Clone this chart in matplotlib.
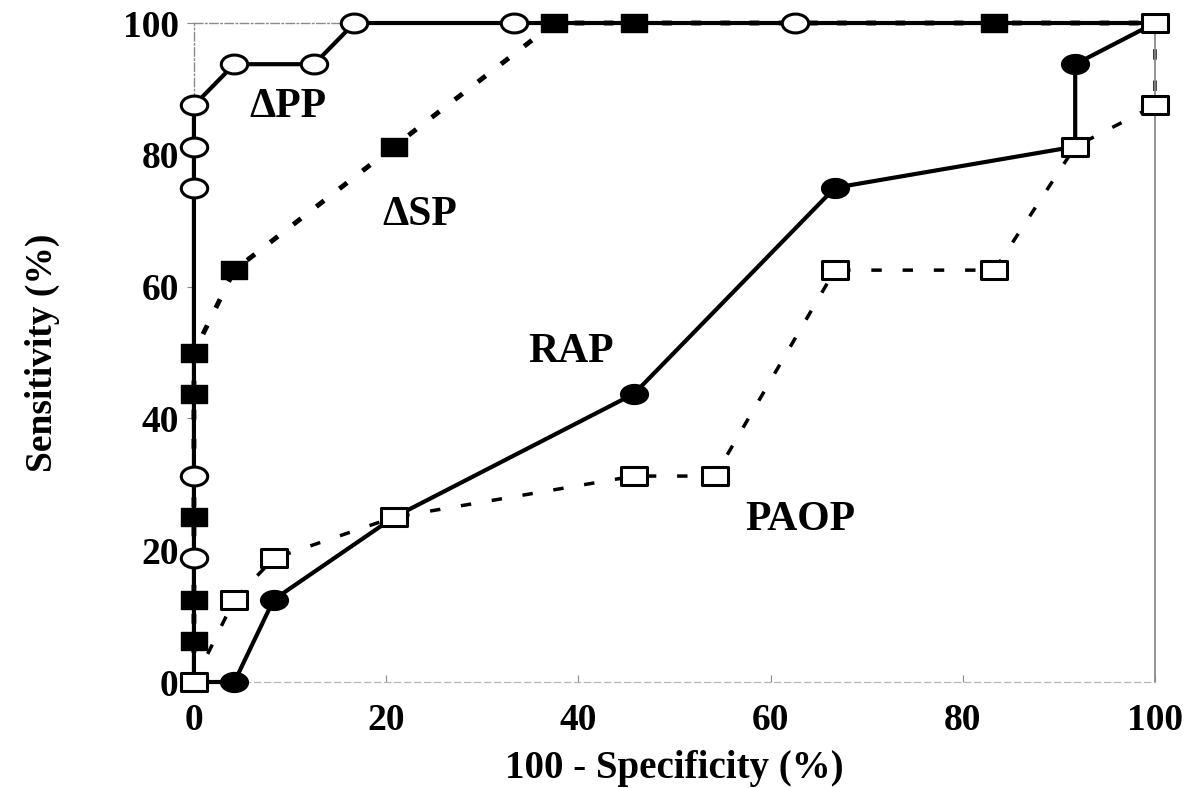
import matplotlib.pyplot as plt
import numpy as np
from matplotlib.path import Path
from matplotlib.transforms import Affine2D

# ROC points: x = 100 - specificity (%), y = sensitivity (%)
pp_x = [0, 0, 0, 0, 0, 0, 4.2, 12.5, 16.7, 33.3, 62.5, 100]
pp_y = [0, 18.75, 31.25, 75, 81.25, 87.5, 93.75, 93.75, 100, 100, 100, 100]

sp_x = [0, 0, 0, 0, 0, 0, 4.2, 20.8, 37.5, 45.8, 83.3, 100]
sp_y = [0, 6.25, 12.5, 25, 43.75, 50, 62.5, 81.25, 100, 100, 100, 100]

rap_x = [0, 4.2, 8.3, 20.8, 45.8, 66.7, 91.7, 91.7, 100]
rap_y = [0, 0, 12.5, 25, 43.75, 75, 81.25, 93.75, 100]

paop_x = [0, 4.2, 8.3, 20.8, 45.8, 54.2, 66.7, 83.3, 91.7, 100, 100]
paop_y = [0, 12.5, 18.75, 25, 31.25, 31.25, 62.5, 62.5, 81.25, 87.5, 100]

labels = ["\u0394PP", "\u0394SP", "RAP", "PAOP"]
label_x = [9.8, 23.5, 39.2, 63.1]
label_y = [87.3, 70.9, 50.1, 24.6]

# slightly wide markers
oval = Path.unit_circle().transformed(Affine2D().scale(1.4, 1.0))
box = Path([[-1.45, -1], [1.45, -1], [1.45, 1], [-1.45, 1], [-1.45, -1]],
           [Path.MOVETO, Path.LINETO, Path.LINETO, Path.LINETO, Path.CLOSEPOLY])

font = ['Liberation Serif', 'DejaVu Serif']
plt.rcParams['font.family'] = font
plt.rcParams['font.weight'] = 'bold'

fig = plt.figure(figsize=(11.95, 7.88), dpi=100)
ax = fig.add_axes([0.1623, 0.1345, 0.8042, 0.8363])

# PAOP (dashed, open squares)
ax.plot(paop_x, paop_y, color='black', lw=2.5, ls=(0, (3, 6)), zorder=2,
        clip_on=False)
# RAP (solid, filled circles)
ax.plot(rap_x, rap_y, color='black', lw=3, zorder=3, clip_on=False)
ax.plot(rap_x, rap_y, ls='none', marker=oval, ms=20, mfc='black', mec='black',
        markevery=[1, 2, 4, 5, 7], zorder=5, clip_on=False)
# dSP (dotted, filled squares)
ax.plot(sp_x, sp_y, color='black', lw=3.5, ls=(0, (2, 4)), zorder=2,
        clip_on=False)
# dPP (solid, open circles)
ax.plot(pp_x, pp_y, color='black', lw=3, zorder=3, clip_on=False)
ax.plot(sp_x, sp_y, ls='none', marker=box, ms=19, mfc='black', mec='black',
        markevery=list(range(1, 11)), zorder=5, clip_on=False)
ax.plot(pp_x, pp_y, ls='none', marker=oval, ms=19, mfc='white', mec='black',
        mew=2.2, markevery=list(range(1, 11)), zorder=6, clip_on=False)
ax.plot(paop_x, paop_y, ls='none', marker=box, ms=19, mfc='white', mec='black',
        mew=2.2, zorder=6, clip_on=False)

for t, x, y in zip(labels, label_x, label_y):
    ax.text(x, y, t, fontsize=30, fontweight='bold', ha='center', va='center',
            family=font)

ax.set_xlim(0, 100)
ax.set_ylim(0, 100)
ax.set_xticks(np.arange(0, 101, 20))
ax.set_yticks(np.arange(0, 101, 20))

for side in ['top', 'left']:
    ax.spines[side].set_color('#8a8a8a')
    ax.spines[side].set_linewidth(1.0)
    ax.spines[side].set_linestyle((0, (6, 2, 1, 2)))
ax.spines['right'].set_color('#8a8a8a')
ax.spines['right'].set_linewidth(1.3)
ax.spines['bottom'].set_color('#b5b5b5')
ax.spines['bottom'].set_linewidth(0.9)
ax.spines['bottom'].set_linestyle((0, (5, 3)))

ax.tick_params(axis='y', direction='out', length=5, width=0.8, color='#8a8a8a',
               pad=6, labelsize=27)
ax.tick_params(axis='x', direction='in', length=5, width=0.8, color='#8a8a8a',
               pad=15, labelsize=27)
for lab in ax.get_xticklabels() + ax.get_yticklabels():
    lab.set_fontweight('bold')

ax.set_xlabel('100 - Specificity (%)', fontsize=28, fontweight='bold', labelpad=9)
ax.set_ylabel('Sensitivity (%)', fontsize=27, fontweight='bold', labelpad=45)

fig.savefig('out.png', dpi=100)
